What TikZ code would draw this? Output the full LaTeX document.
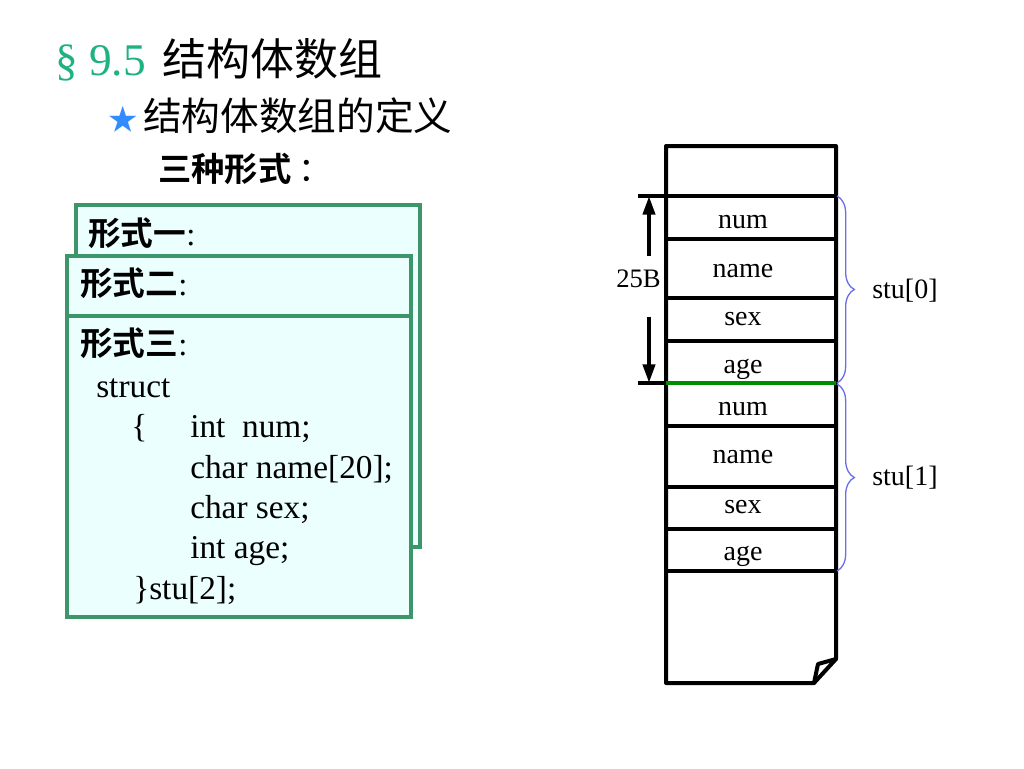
\documentclass[tikz,border=0pt]{standalone}
\usepackage{fontspec}
\setmainfont{Liberation Serif}
\newfontfamily\cjk[BoldFont={Noto Sans CJK SC Bold}]{Noto Sans CJK SC}
\usetikzlibrary{arrows.meta,decorations.pathreplacing}
\definecolor{secgreen}{RGB}{30,178,130}
\definecolor{boxline}{RGB}{60,150,105}
\definecolor{boxfill}{RGB}{236,255,255}
\definecolor{starblue}{RGB}{50,140,255}
\definecolor{bracecol}{RGB}{110,110,230}
\definecolor{seam}{RGB}{0,140,0}
\newcommand{\fs}[1]{\fontsize{#1}{1.2\dimexpr#1\relax}\selectfont}
\newcommand{\hdcolon}{{\mdseries\fontspec{Liberation Serif}:}}
\begin{document}
\begin{tikzpicture}[x=0.75pt,y=-0.75pt,inner sep=0pt,
  form/.style={draw=boxline,fill=boxfill,line width=2.6pt},
  code/.style={anchor=base west,font=\fs{25pt}},
  head/.style={anchor=base west,font=\cjk\bfseries\fs{24.5pt}},
  cell/.style={anchor=base,font=\fs{21pt}},
  wall/.style={line width=3pt,line cap=round,line join=round},
  span/.style={line width=3pt,-{Triangle[length=14pt,width=9pt]}},
  brc/.style={draw=bracecol,line width=1pt,decorate,decoration={brace,amplitude=13pt}}]
\useasboundingbox (0,0) rectangle (1024,768);
% title lines
\node[anchor=base west,font=\fs{34pt},text=secgreen] (sec) at (55,75) {\S\ 9.5};
\node[anchor=base west,font=\cjk\fs{33pt}] (title) at (162,75) {结构体数组};
\node[anchor=base west,font=\cjk\fs{22pt},text=starblue] (star) at (108,130) {★};
\node[anchor=base west,font=\cjk\fs{29pt}] (def) at (143,130) {结构体数组的定义};
\node[anchor=base west,font=\cjk\fs{25pt}] (three) at (158,181) {\bfseries 三种形式\mdseries\hspace{5pt}：};
% the three forms
\draw[form] (76,205) rectangle (420,547);
\node[head] (f1) at (88,245) {形式一\hdcolon};
\draw[form] (67,256) rectangle (411,547);
\node[head] (f2) at (80,295) {形式二\hdcolon};
\draw[form] (67,316) rectangle (411,617);
\node[head] (f3) at (80,355) {形式三\hdcolon};
\node[code] (st) at (96,397) {struct};
\node[code] (lb) at (131,437) {\{};
\node[code] (l1) at (190,437) {int\ \ num;};
\node[code] (l2) at (190,478) {char name[20];};
\node[code] (l3) at (190,518) {char sex;};
\node[code] (l4) at (190,558) {int age;};
\node[code] (rb) at (133,599) {\}stu[2];};
% memory
\draw[wall] (666,146) -- (836,146) -- (836,659) -- (814,683) -- (666,683) -- cycle;
\draw[wall] (814,683) -- (818,664) -- (836,659);
\foreach \y in {196,239,298,341,426,487,529,571}
  \draw[line width=3pt] (666,\y) -- (836,\y);
\draw[line width=3pt] (638,196) -- (666,196);
\draw[line width=3pt] (638,383) -- (666,383);
\draw[line width=3.5pt,seam] (666,383) -- (836,383);
\foreach \t/\y [count=\i] in {num/228,name/277,sex/325,age/373,num/415,name/463,sex/513,age/560}
  \node[cell] (m\i) at (743,\y) {\t};
\coordinate (hi) at (649,196);
\coordinate (hi') at (649,256);
\coordinate (lo) at (649,383);
\coordinate (lo') at (649,317);
\draw[span] (hi') -- (hi);
\draw[span] (lo') -- (lo);
\node[anchor=base west,font=\fs{20pt}] (sz) at (616,287) {25B};
\coordinate (s0a) at (837,196);
\coordinate (s0b) at (837,383);
\coordinate (s1a) at (837,384);
\coordinate (s1b) at (837,571);
\draw[brc] (s0a) -- (s0b);
\draw[brc] (s1a) -- (s1b);
\node[anchor=base west,font=\fs{21pt}] (stu0) at (872,298) {stu[0]};
\node[anchor=base west,font=\fs{21pt}] (stu1) at (872,485) {stu[1]};
\end{tikzpicture}
\end{document}
